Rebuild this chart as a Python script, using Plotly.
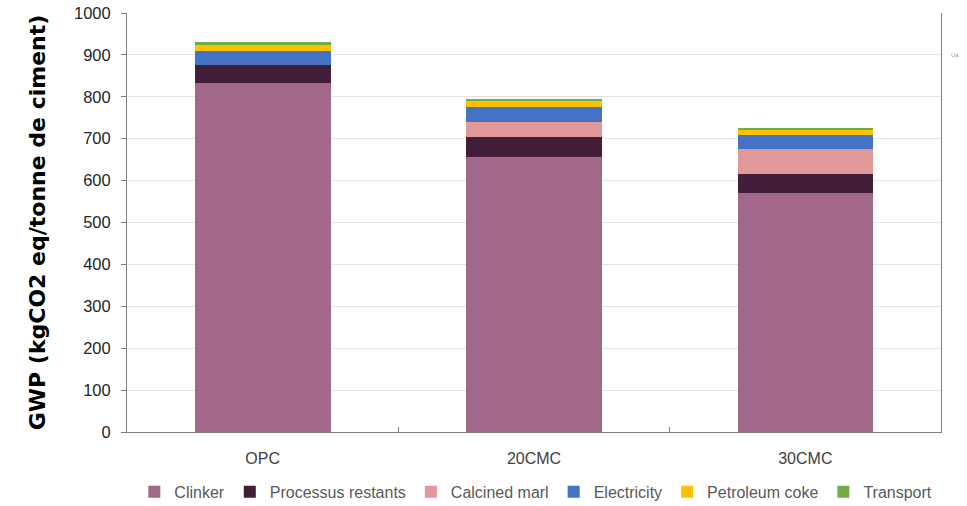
import plotly.graph_objects as go

# Cement types compared
categories = ["OPC", "20CMC", "30CMC"]

# GWP contributions per component (kg CO2 eq per tonne of cement)
clinker = [832, 657, 570]
processus_restants = [44, 46, 45]
calcined_marl = [0, 38, 60]
electricity = [33, 34, 34]
petroleum_coke = [17, 15, 14]
transport = [4, 4, 3]

series = [
    ("Clinker", clinker, "#A2688A"),
    ("Processus restants", processus_restants, "#421E38"),
    ("Calcined marl", calcined_marl, "#E09899"),
    ("Electricity", electricity, "#4472C4"),
    ("Petroleum coke", petroleum_coke, "#FFC000"),
    ("Transport", transport, "#70AD47"),
]

fig = go.Figure()
for name, values, color in series:
    fig.add_trace(go.Bar(
        x=categories, y=values, name=name,
        marker=dict(color=color, line=dict(width=0)),
    ))

base_font = "Liberation Sans, Arial, sans-serif"

fig.update_layout(
    barmode="stack",
    bargap=0.5,
    width=967, height=506,
    margin=dict(l=127, r=26, t=13, b=74, autoexpand=False),
    plot_bgcolor="white",
    paper_bgcolor="white",
    font=dict(family=base_font, size=16, color="#595959"),
    legend=dict(
        orientation="h", x=0.009, xanchor="left", y=-0.143, yanchor="middle",
        font=dict(family=base_font, size=16, color="#595959"),
        itemwidth=30, traceorder="normal",
    ),
    xaxis=dict(
        showline=True, linecolor="#7F7F7F", linewidth=1,
        ticks="inside", ticklen=5, tickcolor="#7F7F7F",
        tickson="boundaries", ticklabelstandoff=12,
        tickfont=dict(family=base_font, size=16, color="#404040"),
        showgrid=False,
    ),
    yaxis=dict(
        range=[0, 1000], dtick=100,
        showline=True, linecolor="#7F7F7F", linewidth=1, mirror=True,
        ticks="outside", ticklen=5, tickcolor="#7F7F7F",
        ticklabelstandoff=7,
        tickfont=dict(family=base_font, size=16.5, color="#262626"),
        showgrid=True, gridcolor="#E4E4E4", gridwidth=1,
        zeroline=False,
        title=dict(
            text="GWP (kgCO2 eq/tonne de ciment)",
            font=dict(family="DejaVu Sans, sans-serif", size=22, color="black", weight="bold"),
            standoff=22,
        ),
    ),
)

fig.add_annotation(
    x=1.0, y=0.912, xref="paper", yref="paper", xanchor="left", xshift=8,
    text="Ua", showarrow=False, font=dict(size=6, color="#9a9a9a"),
)

fig.write_html("out.html")
